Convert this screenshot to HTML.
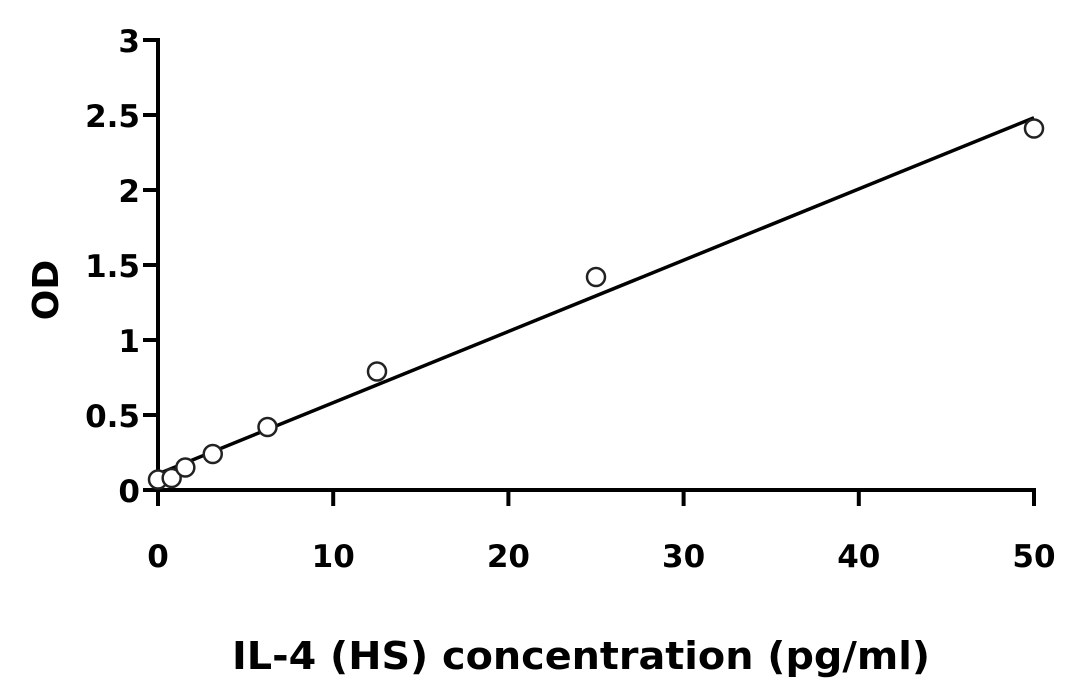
<!DOCTYPE html>
<html><head><meta charset="utf-8"><style>
body{margin:0;background:#fff;}
svg text{font-family:"DejaVu Sans","Liberation Sans",sans-serif;font-weight:bold;fill:#000;}
</style></head><body>
<svg id="chart" width="1084" height="682" xmlns="http://www.w3.org/2000/svg"></svg>
<script>
const xValues=[0,0.78,1.56,3.125,6.25,12.5,25,50];
const odValues=[0.07,0.08,0.15,0.24,0.42,0.79,1.42,2.41];
const xTicks=[0,10,20,30,40,50];
const yTicks=[0,0.5,1,1.5,2,2.5,3];
const yTickLabels=["0","0.5","1","1.5","2","2.5","3"];
const fitSlope=0.0475, fitIntercept=0.107;
const NS="http://www.w3.org/2000/svg";
const svg=document.getElementById('chart');
const X=v=>158+v*(1034-158)/50;
const Y=v=>490-v*150;
function mk(t,a,p){const e=document.createElementNS(NS,t);for(const k in a)e.setAttribute(k,a[k]);(p||svg).appendChild(e);return e;}
let e;
e=mk('line',{x1:158,y1:38,x2:158,y2:506,stroke:'#000','stroke-width':4});

e=mk('line',{x1:143,y1:490,x2:1036,y2:490,stroke:'#000','stroke-width':4});

yTicks.forEach((v,i)=>{
 e=mk('line',{x1:143,y1:Y(v),x2:158,y2:Y(v),stroke:'#000','stroke-width':4});
 
 e=mk('text',{x:140,y:Y(v)+12,'font-size':31,'text-anchor':'end'});e.textContent=yTickLabels[i];
 
});
xTicks.forEach(v=>{
 e=mk('line',{x1:X(v),y1:490,x2:X(v),y2:506,stroke:'#000','stroke-width':4});
 
 e=mk('text',{x:X(v),y:567,'font-size':31,'text-anchor':'middle'});e.textContent=String(v);
 
});
e=mk('line',{x1:X(0),y1:Y(fitIntercept),x2:X(50),y2:Y(fitIntercept+fitSlope*50),stroke:'#000','stroke-width':3.5});

xValues.forEach((x,i)=>{
 e=mk('circle',{cx:X(x),cy:Y(odValues[i]),r:9,fill:'#fff',stroke:'#222','stroke-width':2.5});
 
});
e=mk('text',{x:0,y:0,'font-size':36,'text-anchor':'middle',transform:'translate(58,290) rotate(-90)'});e.textContent='OD';

e=mk('text',{x:232,y:669,'font-size':38,textLength:698,lengthAdjust:'spacingAndGlyphs'});e.textContent='IL-4 (HS) concentration (pg/ml)';

</script>
</body></html>
